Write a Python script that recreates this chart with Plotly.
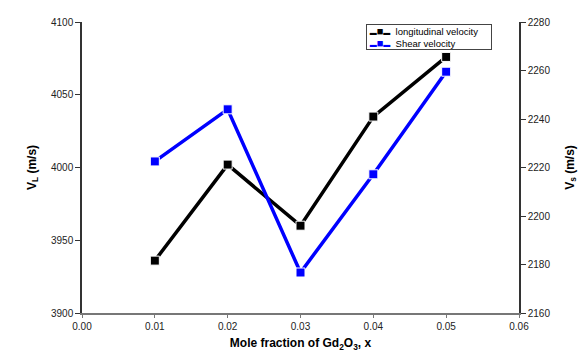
import plotly.graph_objects as go

x_vals = [0.01, 0.02, 0.03, 0.04, 0.05]
vl_vals = [3936, 4002, 3960, 4035, 4076]
vs_vals = [2222.5, 2244, 2176.7, 2217.2, 2259.5]
x_ticks = [0.00, 0.01, 0.02, 0.03, 0.04, 0.05, 0.06]
series_names = ["longitudinal velocity", "Shear velocity"]
series_colors = ["black", "#0000ff"]

fig = go.Figure()
fig.add_trace(go.Scatter(
    x=x_vals, y=vl_vals, mode="lines+markers", name=series_names[0],
    line=dict(color=series_colors[0], width=3.5),
    marker=dict(symbol="square", size=9, color=series_colors[0], line=dict(color="white", width=1)),
    yaxis="y", showlegend=False))
fig.add_trace(go.Scatter(
    x=x_vals, y=vs_vals, mode="lines+markers", name=series_names[1],
    line=dict(color=series_colors[1], width=3.5),
    marker=dict(symbol="square", size=9, color=series_colors[1], line=dict(color="white", width=1)),
    yaxis="y2", showlegend=False))

# compact legend, as in the reference
legend_text = "<br>".join(
    f"\u00a0<span style='color:{c};font-size:7px'>▬</span>"
    f"<span style='color:{c};font-size:11px'>■</span>"
    f"<span style='color:{c};font-size:7px'>▬</span>\u00a0\u00a0{n}"
    for n, c in zip(series_names, series_colors)
)
fig.add_annotation(
    xref="paper", yref="paper", x=0.651, y=0.993, xanchor="left", yanchor="top",
    text=legend_text, showarrow=False, align="left", width=124,
    font=dict(size=9.5, color="black"),
    bordercolor="#444", borderwidth=1, borderpad=0, bgcolor="white",
)

font_family = "Liberation Sans, Arial, sans-serif"
fig.update_layout(
    width=587, height=360,
    margin=dict(l=82, r=64, t=22, b=44),
    paper_bgcolor="white", plot_bgcolor="white",
    font=dict(family=font_family, size=10, color="#222"),
    xaxis=dict(range=[0, 0.06], tickvals=x_ticks, tickformat=".2f",
               showgrid=False, zeroline=False, showline=True, linecolor="#777", linewidth=1.5,
               ticks="outside", ticklen=3, tickcolor="#777",
               title=dict(text="<b>Mole fraction of Gd<sub>2</sub>O<sub>3</sub>, x</b>",
                          font=dict(size=12, color="black"), standoff=8)),
    yaxis=dict(range=[3900, 4100], dtick=50, showgrid=False, zeroline=False,
               showline=True, linecolor="#333", linewidth=1.5, ticks="outside", ticklen=5,
               tickcolor="#333",
               title=dict(text="<b>V<sub>L</sub> (m/s)</b>", font=dict(size=12, color="black"),
                          standoff=12)),
    yaxis2=dict(range=[2160, 2280], dtick=20, overlaying="y", side="right",
                showgrid=False, zeroline=False, showline=True, linecolor="#333", linewidth=1.5,
                ticks="outside", ticklen=5, tickcolor="#333",
                title=dict(text="<b>V<sub>s</sub> (m/s)</b>", font=dict(size=12, color="black"),
                           standoff=16)),
)

fig.write_html("out.html")
